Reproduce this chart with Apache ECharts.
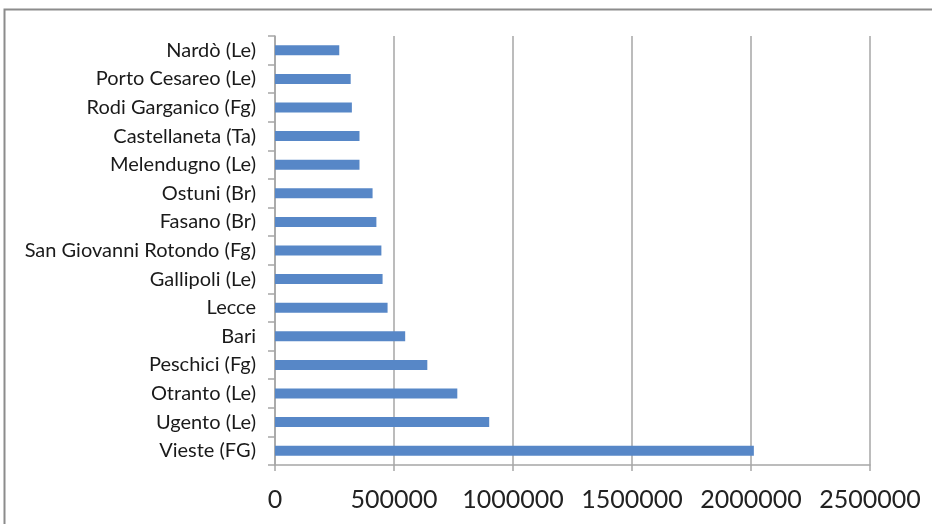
<!DOCTYPE html>
<html>
<head>
<meta charset="utf-8">
<style>
  html, body { margin: 0; padding: 0; background: #fff; }
  #chart { width: 932px; height: 524px; }
</style>
<script src="https://cdn.jsdelivr.net/npm/echarts@6/dist/echarts.min.js"></script>
</head>
<body>
<div id="chart"></div>
<script>
// Comuni della Puglia, dal basso verso l'alto
const categories = [
  'Vieste (FG)', 'Ugento (Le)', 'Otranto (Le)', 'Peschici (Fg)', 'Bari',
  'Lecce', 'Gallipoli (Le)', 'San Giovanni Rotondo (Fg)', 'Fasano (Br)',
  'Ostuni (Br)', 'Melendugno (Le)', 'Castellaneta (Ta)', 'Rodi Garganico (Fg)',
  'Porto Cesareo (Le)', 'Nardò (Le)'
];
const values = [
  2012000, 900000, 766000, 640000, 547000,
  473000, 452000, 447000, 426000,
  410000, 355000, 355000, 323000,
  318000, 270000
];
const xTicks = [0, 500000, 1000000, 1500000, 2000000, 2500000];

const chart = echarts.init(document.getElementById('chart'));
const gridColor = '#a6a6a6';
const font = 'Lato, "Open Sans", sans-serif';

chart.setOption({
  animation: false,
  graphic: [{
    type: 'rect',
    shape: { x: 4.5, y: 9.5, width: 1000, height: 600 },
    style: { fill: 'none', stroke: '#8c8c8c', lineWidth: 2 },
    silent: true
  }],
  grid: { left: 275, top: 36, right: 62, bottom: 59, containLabel: false },
  xAxis: {
    type: 'value',
    min: xTicks[0],
    max: xTicks[xTicks.length - 1],
    interval: xTicks[1] - xTicks[0],
    axisLine: { show: true, lineStyle: { color: gridColor, width: 1.5 } },
    axisTick: { show: true, length: 6, lineStyle: { color: gridColor, width: 1.5 } },
    splitLine: { show: true, lineStyle: { color: gridColor, width: 1.5 } },
    axisLabel: {
      margin: 22, color: '#222', fontFamily: font, fontSize: 25,
      formatter: v => String(v)
    }
  },
  yAxis: {
    type: 'category',
    data: categories,
    axisLine: { show: true, lineStyle: { color: gridColor, width: 1.5 } },
    axisTick: { show: true, length: 7, alignWithLabel: false, lineStyle: { color: gridColor, width: 1.5 } },
    splitLine: { show: false },
    axisLabel: { margin: 19, color: '#1a1a1a', fontFamily: font, fontSize: 20 }
  },
  series: [{
    type: 'bar',
    data: values,
    barWidth: 10,
    itemStyle: { color: '#5787C7' }
  }]
});
</script>
</body>
</html>
